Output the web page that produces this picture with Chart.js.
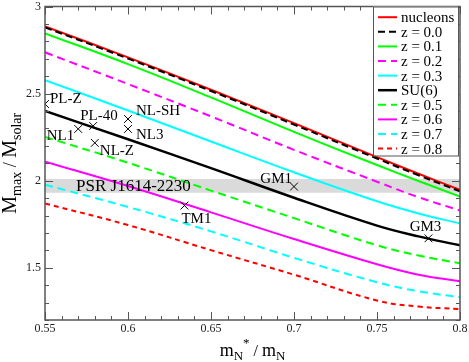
<!DOCTYPE html>
<html>
<head>
<meta charset="utf-8">
<script src="https://cdn.jsdelivr.net/npm/chart.js@4.4.1/dist/chart.umd.min.js"></script>
<style>
  html, body { margin: 0; padding: 0; background: #fff; }
  canvas { display: block; }
</style>
</head>
<body>
<canvas id="chart" width="469" height="362"></canvas>
<script>
// effective nucleon mass ratio m*/m
const mStar = [0.55, 0.6, 0.65, 0.7, 0.75, 0.775, 0.8]

// maximum star mass (M_solar) for each curve
const nucleons = [2.886, 2.708, 2.522, 2.330, 2.135, 2.040, 1.947]
const z00 = [2.880, 2.701, 2.515, 2.322, 2.127, 2.031, 1.939]
const z01 = [2.846, 2.669, 2.478, 2.280, 2.090, 1.998, 1.909]
const z02 = [2.737, 2.555, 2.369, 2.177, 1.994, 1.905, 1.829]
const z03 = [2.577, 2.403, 2.225, 2.048, 1.882, 1.812, 1.754]
const su6 = [2.400, 2.238, 2.072, 1.902, 1.742, 1.680, 1.629]
const z05 = [2.251, 2.103, 1.943, 1.785, 1.629, 1.570, 1.526]
const z06 = [2.109, 1.969, 1.818, 1.665, 1.520, 1.460, 1.423]
const z07 = [1.977, 1.849, 1.709, 1.557, 1.417, 1.365, 1.331]
const z08 = [1.869, 1.745, 1.601, 1.460, 1.312, 1.277, 1.263]

const seriesNames = ['nucleons', 'z = 0.0', 'z = 0.1', 'z = 0.2', 'z = 0.3',
                     'SU(6)', 'z = 0.5', 'z = 0.6', 'z = 0.7', 'z = 0.8']
const seriesValues = [nucleons, z00, z01, z02, z03, su6, z05, z06, z07, z08]

// PSR J1614-2230 mass band
const psrLow = 1.93
const psrHigh = 2.01
const psrName = 'PSR J1614-2230'

// parameter sets
const modelNames = ['PL-Z', 'PL-40', 'NL1', 'NL-SH', 'NL3', 'NL-Z', 'GM1', 'TM1', 'GM3']
const modelX = [0.55, 0.579, 0.570, 0.60, 0.60, 0.580, 0.70, 0.634, 0.781]
const modelY = [2.44, 2.314, 2.297, 2.354, 2.297, 2.217, 1.966, 1.857, 1.669]

const xTicks = [0.55, 0.6, 0.65, 0.7, 0.75, 0.8]
const yTicks = [1.5, 2, 2.5, 3]

// line styles, same order as seriesNames
const styles = [
  { color: '#ff0000', dash: [], width: 2 },
  { color: '#000000', dash: [7, 4], width: 2 },
  { color: '#00ff00', dash: [], width: 2 },
  { color: '#ff00ff', dash: [8, 5], width: 2 },
  { color: '#00ffff', dash: [], width: 2 },
  { color: '#000000', dash: [], width: 2.5 },
  { color: '#00ff00', dash: [8, 5], width: 2 },
  { color: '#ff00ff', dash: [], width: 2 },
  { color: '#00ffff', dash: [8, 5], width: 2 },
  { color: '#ff0000', dash: [5, 4], width: 2 }
]
// label offsets (px) from each marker
const labelPos = [
  [5, -5, 'left'], [-13, -10, 'left'], [-4, 7, 'right'], [8, -8, 'left'], [8, 6, 'left'],
  [5, 8, 'left'], [-2, -8, 'right'], [-3, 13, 'left'], [-3, -11, 'center']
]

const SERIF = '"Liberation Serif", "Times New Roman", serif'

function richText(ctx, parts, cx, by) {
  let total = 0
  parts.forEach((p) => { ctx.font = p[1] + 'px ' + SERIF; total += ctx.measureText(p[0]).width })
  let x = cx - total / 2
  ctx.textAlign = 'left'
  ctx.textBaseline = 'alphabetic'
  parts.forEach((p) => {
    ctx.font = p[1] + 'px ' + SERIF
    ctx.fillText(p[0], x, by + p[2])
    x += ctx.measureText(p[0]).width
  })
}

const decorations = {
  id: 'decorations',
  afterDraw(chart) {
    const { ctx, chartArea: a, scales: { x, y } } = chart
    ctx.save()

    // frame
    ctx.strokeStyle = '#555'
    ctx.lineWidth = 1.5
    ctx.setLineDash([])
    ctx.strokeRect(a.left, a.top, a.right - a.left, a.bottom - a.top)

    // inward ticks on all four sides
    ctx.lineWidth = 1
    ctx.beginPath()
    for (let i = 0; i <= 25; i++) {
      const v = 0.55 + i * 0.01
      const px = Math.round(x.getPixelForValue(v)) + 0.5
      const len = i % 5 === 0 ? 8 : 4
      ctx.moveTo(px, a.bottom); ctx.lineTo(px, a.bottom - len)
      ctx.moveTo(px, a.top); ctx.lineTo(px, a.top + len)
    }
    for (let i = 0; i <= 18; i++) {
      const v = 1.2 + i * 0.1
      const py = Math.round(y.getPixelForValue(v)) + 0.5
      const len = (i + 2) % 5 === 0 ? 8 : 4
      ctx.moveTo(a.left, py); ctx.lineTo(a.left + len, py)
      ctx.moveTo(a.right, py); ctx.lineTo(a.right - len, py)
    }
    ctx.stroke()

    // tick labels
    ctx.fillStyle = '#222'
    ctx.font = '12px ' + SERIF
    ctx.textAlign = 'center'
    ctx.textBaseline = 'top'
    xTicks.forEach((v) => ctx.fillText(String(v), x.getPixelForValue(v), a.bottom + 3))
    ctx.textAlign = 'right'
    ctx.textBaseline = 'middle'
    yTicks.forEach((v) => ctx.fillText(String(v), a.left - 4, y.getPixelForValue(v)))

    // model labels
    ctx.fillStyle = '#000'
    ctx.font = '15px ' + SERIF
    modelNames.forEach((name, i) => {
      const p = labelPos[i]
      ctx.textAlign = p[2]
      ctx.textBaseline = 'middle'
      ctx.fillText(name, x.getPixelForValue(modelX[i]) + p[0], y.getPixelForValue(modelY[i]) + p[1])
    })
    ctx.font = '17px ' + SERIF
    ctx.textAlign = 'left'
    ctx.fillText(psrName, x.getPixelForValue(0.5687), y.getPixelForValue((psrLow + psrHigh) / 2) + 1)

    // legend box
    const lx = a.right - 87, ly = a.top, lw = 85, lh = 149
    ctx.fillStyle = '#fff'
    ctx.fillRect(lx, ly, lw, lh)
    ctx.strokeStyle = '#555'
    ctx.lineWidth = 1
    ctx.strokeRect(lx + 0.5, ly + 0.5, lw, lh)
    chart.data.datasets.forEach((ds) => {
      if (ds.legendIndex === undefined) return
      const ry = ly + 10.7 + ds.legendIndex * 14.6
      ctx.strokeStyle = ds.borderColor
      ctx.lineWidth = ds.borderWidth
      ctx.setLineDash(ds.borderDash)
      ctx.beginPath()
      ctx.moveTo(lx + 5, ry); ctx.lineTo(lx + 24, ry)
      ctx.stroke()
      ctx.setLineDash([])
      ctx.fillStyle = '#000'
      ctx.font = '15px ' + SERIF
      ctx.textAlign = 'left'
      ctx.textBaseline = 'middle'
      ctx.fillText(ds.label, lx + 28, ry + 1)
    })

    // axis titles
    ctx.fillStyle = '#000'
    richText(ctx, [['m', 18, 0], ['N', 13, 4], ['*', 13, -9], [' / ', 16, 0], ['m', 18, 0], ['N', 13, 4]],
      (a.left + a.right) / 2, 356)
    ctx.translate(16, (a.top + a.bottom) / 2)
    ctx.rotate(-Math.PI / 2)
    richText(ctx, [['M', 20, 0], ['max', 14, 5], [' / ', 18, 0], ['M', 20, 0], ['solar', 14, 5]], 0, 0)

    ctx.restore()
  }
}

const datasets = seriesNames.map((name, i) => ({
  label: name,
  legendIndex: i,
  data: mStar.map((m, j) => ({ x: m, y: seriesValues[i][j] })),
  borderColor: styles[i].color,
  borderWidth: styles[i].width,
  borderDash: styles[i].dash,
  pointRadius: 0,
  fill: false,
  tension: 0.4,
  order: i === 0 ? 1 : 0
}))

datasets.push({
  label: 'psr',
  data: [{ x: 0.55, y: psrHigh }, { x: 0.8, y: psrHigh }],
  borderWidth: 0,
  borderColor: 'rgba(0,0,0,0)',
  backgroundColor: '#dadada',
  pointRadius: 0,
  fill: { value: psrLow },
  order: 5
})

datasets.push({
  type: 'scatter',
  label: 'models',
  data: modelNames.map((n, i) => ({ x: modelX[i], y: modelY[i] })),
  pointStyle: 'crossRot',
  pointRadius: 5.5,
  borderColor: '#000',
  borderWidth: 1,
  showLine: false,
  order: -1
})

new Chart(document.getElementById('chart'), {
  type: 'line',
  data: { datasets: datasets },
  options: {
    responsive: false,
    animation: false,
    layout: { padding: { left: 45, top: 5, right: 9, bottom: 42 } },
    plugins: {
      legend: { display: false },
      tooltip: { enabled: false }
    },
    scales: {
      x: { type: 'linear', min: 0.55, max: 0.8, display: false },
      y: { type: 'linear', min: 1.2, max: 3, display: false }
    }
  },
  plugins: [decorations]
})
</script>
</body>
</html>
